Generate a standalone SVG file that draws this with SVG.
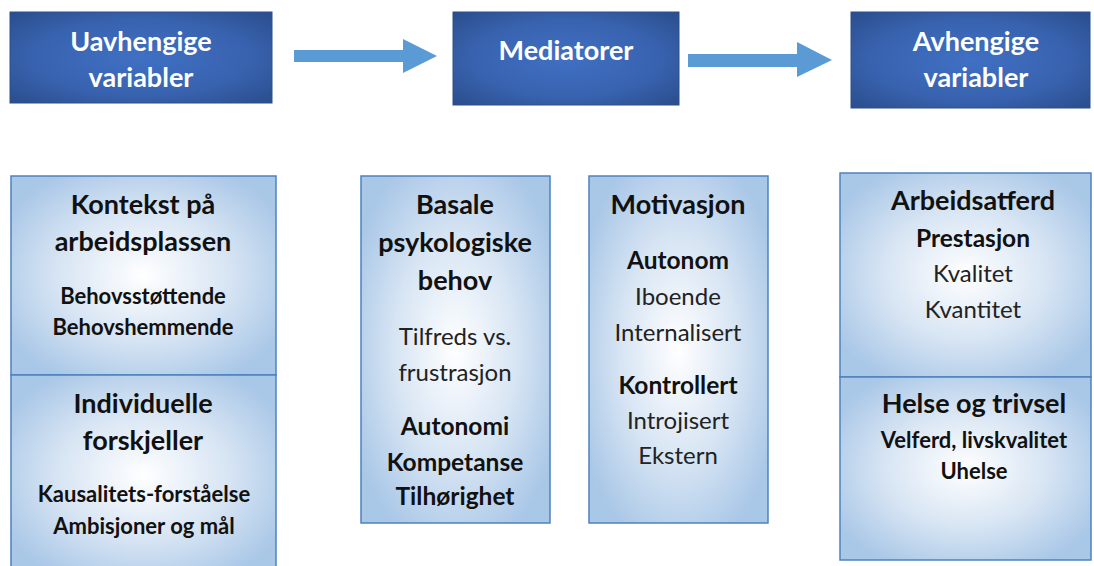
<svg xmlns="http://www.w3.org/2000/svg" width="1094" height="566" viewBox="0 0 1094 566">
<defs>
<radialGradient id="dark" cx="50%" cy="50%" r="70%">
<stop offset="0" stop-color="#4070c4"/>
<stop offset="0.6" stop-color="#3862ae"/>
<stop offset="1" stop-color="#2a4d8c"/>
</radialGradient>
<radialGradient id="light" cx="50%" cy="50%" r="60%">
<stop offset="0" stop-color="#ffffff"/>
<stop offset="0.55" stop-color="#d6e4f3"/>
<stop offset="1" stop-color="#a9c7e7"/>
</radialGradient>
<style>
.top{fill:url(#dark);stroke:#2d5089;stroke-width:1}
.box{fill:url(#light);stroke:#4f81bd;stroke-width:1.5}
text{font-family:Lato,"Liberation Sans",sans-serif;text-anchor:middle;fill:#111}
.tt{fill:#fff;font-weight:700;font-size:27px}
.h{font-weight:700;font-size:27px}
.s{font-weight:700;font-size:22px}
.s2{font-weight:700;font-size:24.5px}
.r{font-weight:400;font-size:24px;fill:#222}
.arrow{fill:#5b9bd5}
</style>
</defs>
<g id="connectors">
<polygon class="arrow" points="294,50 403,50 403,39 437,56 403,73 403,62 294,62"/>
<polygon class="arrow" points="688,54 797,54 797,42 832,60 797,77 797,67 688,67"/>
</g>
<g id="n-uavhengige">
<rect class="top" x="10" y="12" width="262" height="91"/>
<text class="tt" x="141" y="51">Uavhengige</text>
<text class="tt" x="141" y="87">variabler</text>
</g>
<g id="n-mediatorer">
<rect class="top" x="453" y="12" width="226" height="93"/>
<text class="tt" x="566" y="60">Mediatorer</text>
</g>
<g id="n-avhengige">
<rect class="top" x="851" y="12" width="239" height="96"/>
<text class="tt" x="976" y="51">Avhengige</text>
<text class="tt" x="976" y="87">variabler</text>
</g>
<g id="n-kontekst">
<rect class="box" x="11" y="176" width="265" height="199"/>
<text class="h" x="143" y="214">Kontekst på</text>
<text class="h" x="143" y="251">arbeidsplassen</text>
<text class="s" x="143" y="304">Behovsstøttende</text>
<text class="s" x="143" y="335">Behovshemmende</text>
</g>
<g id="n-individuelle">
<rect class="box" x="11" y="375" width="265" height="200"/>
<text class="h" x="143" y="413">Individuelle</text>
<text class="h" x="143" y="450">forskjeller</text>
<text class="s" x="144" y="502">Kausalitets-forståelse</text>
<text class="s" x="144" y="534">Ambisjoner og mål</text>
</g>
<g id="n-basale">
<rect class="box" x="361" y="176" width="189" height="347"/>
<text class="h" x="455" y="214">Basale</text>
<text class="h" x="455" y="252">psykologiske</text>
<text class="h" x="455" y="290">behov</text>
<text class="r" x="455" y="345">Tilfreds vs.</text>
<text class="r" x="455" y="381">frustrasjon</text>
<text class="s2" x="455" y="435">Autonomi</text>
<text class="s2" x="455" y="471">Kompetanse</text>
<text class="s2" x="455" y="505">Tilhørighet</text>
</g>
<g id="n-motivasjon">
<rect class="box" x="589" y="176" width="179" height="347"/>
<text class="h" x="678" y="214">Motivasjon</text>
<text class="s2" x="678" y="269">Autonom</text>
<text class="r" x="678" y="305">Iboende</text>
<text class="r" x="678" y="341">Internalisert</text>
<text class="s2" x="678" y="394">Kontrollert</text>
<text class="r" x="678" y="429">Introjisert</text>
<text class="r" x="678" y="464">Ekstern</text>
</g>
<g id="n-arbeidsatferd">
<rect class="box" x="840" y="173" width="251" height="204"/>
<text class="h" x="973" y="210">Arbeidsatferd</text>
<text class="s2" x="973" y="247">Prestasjon</text>
<text class="r" x="973" y="282">Kvalitet</text>
<text class="r" x="973" y="318">Kvantitet</text>
</g>
<g id="n-helse">
<rect class="box" x="840" y="377" width="251" height="183"/>
<text class="h" x="974" y="413">Helse og trivsel</text>
<text class="s" x="974" y="448">Velferd, livskvalitet</text>
<text class="s" x="974" y="479">Uhelse</text>
</g>
</svg>
